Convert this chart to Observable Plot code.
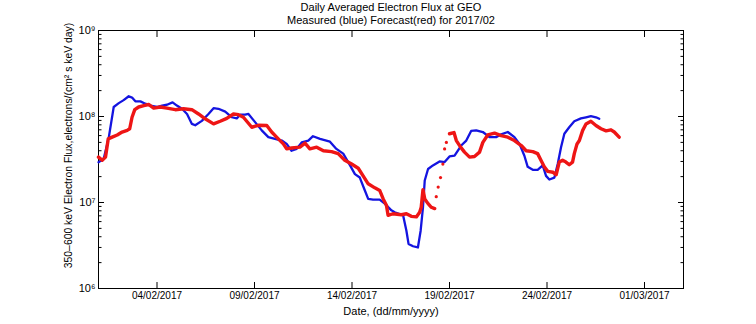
<!DOCTYPE html>
<html>
<head>
<meta charset="utf-8">
<script src="https://cdn.jsdelivr.net/npm/d3@7"></script>
<script src="https://cdn.jsdelivr.net/npm/@observablehq/plot@0.6"></script>
<style>
  html, body { margin: 0; padding: 0; background: #fff; }
</style>
</head>
<body>
<div id="chart"></div>
<script>
// ---- Data (days since 2017-02-01 00:00 UTC, flux in electrons/(cm² s keV day)) ----
const measuredDays = [0.00,0.27,0.53,0.78,1.04,1.29,1.55,1.72,1.89,2.15,2.40,2.66,3.00,3.26,3.51,3.80,4.02,4.28,4.54,4.79,4.96,5.30,5.64,5.90,6.15,6.50,6.84,7.09,7.26,7.52,7.69,8.03,8.37,8.71,9.05,9.40,9.65,9.90,10.16,10.42,10.76,11.00,11.36,11.87,12.20,12.55,12.90,13.15,13.40,13.66,13.83,14.08,14.42,14.68,15.02,15.19,15.62,15.79,15.90,16.13,16.38,16.52,16.64,16.73,16.90,17.15,17.49,17.75,18.00,18.26,18.60,18.86,19.11,19.37,19.71,20.05,20.39,20.65,20.99,21.33,21.59,21.84,22.01,22.27,22.52,22.78,22.95,23.12,23.38,23.55,23.72,23.89,24.14,24.40,24.74,25.00,25.25,25.51,25.68];
const measuredFlux = [2.94e7,3.24e7,5.75e7,1.29e8,1.43e8,1.55e8,1.72e8,1.66e8,1.50e8,1.50e8,1.41e8,1.34e8,1.29e8,1.34e8,1.37e8,1.46e8,1.34e8,1.23e8,1.07e8,8.2e7,7.9e7,8.9e7,1.07e8,1.25e8,1.23e8,1.14e8,9.8e7,9.5e7,1.05e8,1.05e8,1.07e8,8.6e7,6.9e7,5.75e7,5.5e7,5.25e7,4.8e7,4.0e7,4.2e7,5.0e7,5.25e7,5.9e7,5.5e7,5.1e7,4.2e7,3.7e7,2.7e7,2.14e7,1.95e7,1.38e7,1.10e7,1.08e7,1.08e7,9.7e6,8.1e6,7.7e6,7.1e6,4.7e6,3.3e6,3.1e6,3.0e6,4.7e6,8.8e6,1.8e7,2.45e7,2.7e7,3.0e7,2.95e7,3.43e7,3.5e7,4.6e7,5.25e7,6.8e7,6.9e7,6.6e7,5.75e7,5.75e7,6.2e7,6.6e7,5.75e7,4.8e7,3.5e7,2.6e7,2.4e7,2.4e7,2.7e7,2.04e7,1.85e7,1.95e7,2.8e7,4.4e7,6.3e7,7.5e7,8.8e7,9.5e7,9.8e7,1.01e8,9.8e7,9.4e7];

// Forecast, first continuous run
const forecastDaysA = [0.00,0.19,0.36,0.50,0.70,0.96,1.21,1.47,1.60,1.72,1.86,2.06,2.32,2.57,2.83,3.17,3.51,3.94,4.36,4.79,5.13,5.47,5.90,6.24,6.58,6.92,7.18,7.43,7.86,8.20,8.63,8.88,9.22,9.48,9.65,9.90,10.33,10.59,10.84,11.19,11.53,11.95,12.29,12.63,12.98,13.32,13.57,13.83,14.17,14.42,14.60,14.77,14.85,15.10,15.53,15.79,16.04,16.30,16.47,16.55,16.64,16.73,16.90,17.07,17.24];
const forecastFluxA = [3.37e7,3.1e7,3.37e7,5.5e7,5.75e7,6.1e7,6.6e7,6.9e7,7.2e7,9.8e7,1.2e8,1.29e8,1.34e8,1.38e8,1.25e8,1.29e8,1.25e8,1.2e8,1.23e8,1.2e8,1.07e8,9.4e7,8.2e7,8.8e7,9.5e7,1.07e8,1.05e8,9.8e7,7.5e7,7.9e7,7.85e7,6.6e7,5.5e7,4.8e7,4.2e7,4.3e7,4.4e7,4.9e7,4.2e7,4.4e7,4.0e7,3.9e7,3.7e7,3.1e7,2.8e7,2.5e7,2.04e7,1.65e7,1.48e7,1.38e7,1.10e7,9.2e6,7.1e6,7.4e6,7.2e6,7.4e6,6.9e6,6.8e6,7.7e6,8.8e6,1.41e7,1.10e7,9.7e6,8.8e6,8.5e6];
// Forecast, sparse points during the rise
const forecastDaysJump = [17.32,17.42,17.54,17.66,17.75,17.84];
const forecastFluxJump = [1.17e7,1.51e7,1.95e7,2.8e7,4.2e7,5.0e7];
// Forecast, second continuous run
const forecastDaysB = [18.00,18.23,18.35,18.57,18.77,19.03,19.28,19.54,19.71,19.96,20.31,20.65,20.99,21.33,21.68,21.93,22.27,22.52,22.69,22.86,23.04,23.30,23.47,23.55,23.63,23.80,23.97,24.14,24.31,24.40,24.54,24.66,24.83,25.00,25.25,25.51,25.77,26.03,26.28,26.45,26.70];
const forecastFluxB = [6.3e7,6.5e7,5.25e7,4.4e7,3.85e7,3.37e7,3.43e7,3.85e7,5.0e7,6.1e7,6.4e7,6.0e7,5.75e7,5.25e7,4.6e7,4.0e7,3.9e7,3.7e7,3.1e7,2.6e7,2.3e7,2.25e7,2.1e7,2.5e7,2.95e7,3.1e7,2.95e7,2.75e7,2.95e7,3.7e7,4.8e7,5.25e7,6.9e7,8.2e7,8.8e7,7.85e7,7.2e7,6.8e7,7.0e7,6.6e7,5.75e7];

const xTickDates = ["2017-02-04","2017-02-09","2017-02-14","2017-02-19","2017-02-24","2017-03-01"];
const yMajorTicks = [1e6, 1e7, 1e8, 1e9];
const supDigits = {"6":"⁶","7":"⁷","8":"⁸","9":"⁹"};

const titleLines = ["Daily Averaged Electron Flux at GEO", "Measured (blue) Forecast(red) for 2017/02"];
const yLabel = "350\u2013600 keV Electron Flux,electrons/(cm\u00b2 s keV day)";
const xLabel = "Date, (dd/mm/yyyy)";

// ---- Build tables ----
const t0 = Date.UTC(2017, 1, 1);
const toDate = d => new Date(t0 + d * 864e5);
const rows = (days, flux) => days.map((d, i) => ({date: toDate(d), flux: flux[i]}));
const measured = rows(measuredDays, measuredFlux);
const forecastA = rows(forecastDaysA, forecastFluxA);
const forecastB = rows(forecastDaysB, forecastFluxB);
const forecastJump = rows(forecastDaysJump, forecastFluxJump);

const xTicks = xTickDates.map(s => new Date(s + "T00:00:00Z"));
const yMinorTicks = [];
for (const p of [1e6, 1e7, 1e8]) for (let m = 2; m <= 9; m++) yMinorTicks.push(m * p);

const BLUE = "#1414e0";
const RED = "#ee1515";
const fmtDate = d3.utcFormat("%d/%m/%Y");

const chart = Plot.plot({
  width: 756,
  height: 324,
  marginTop: 30,
  marginBottom: 36,
  marginLeft: 98,
  marginRight: 73,
  style: {fontFamily: "'Liberation Sans', Arial, Helvetica, sans-serif", fontSize: "10px", color: "#000", background: "#fff", overflow: "visible"},
  x: {type: "utc", domain: [new Date(Date.UTC(2017,1,1)), new Date(Date.UTC(2017,2,3))]},
  y: {type: "log", domain: [1e6, 1e9]},
  marks: [
    // tick labels
    Plot.axisX({anchor: "bottom", ticks: xTicks, tickSize: 0, tickPadding: 3, tickFormat: fmtDate, label: null, fontSize: 10}),
    Plot.axisY({anchor: "left", ticks: yMajorTicks, tickSize: 0, tickPadding: 3, label: null, fontSize: 11,
      tickFormat: d => "10" + supDigits[String(Math.round(Math.log10(d)))]}),
    // inward ticks
    Plot.axisX({anchor: "bottom", ticks: xTicks, tickSize: 6, dy: -6, tickFormat: () => "", label: null}),
    Plot.axisX({anchor: "top", ticks: xTicks, tickSize: 6, dy: 6, tickFormat: () => "", label: null}),
    Plot.axisY({anchor: "left", ticks: yMajorTicks, tickSize: 6, dx: 6, tickFormat: () => "", label: null}),
    Plot.axisY({anchor: "left", ticks: yMinorTicks, tickSize: 3.5, dx: 3.5, tickFormat: () => "", label: null}),
    Plot.axisY({anchor: "right", ticks: yMajorTicks, tickSize: 6, dx: -6, tickFormat: () => "", label: null}),
    Plot.axisY({anchor: "right", ticks: yMinorTicks, tickSize: 3.5, dx: -3.5, tickFormat: () => "", label: null}),
    Plot.frame({stroke: "#000", strokeWidth: 1}),
    // data
    Plot.line(measured, {x: "date", y: "flux", stroke: BLUE, strokeWidth: 2.3}),
    Plot.line(forecastA, {x: "date", y: "flux", stroke: RED, strokeWidth: 3.4}),
    Plot.line(forecastB, {x: "date", y: "flux", stroke: RED, strokeWidth: 3.4}),
    Plot.dot(forecastJump, {x: "date", y: "flux", fill: RED, r: 1.6}),
    // titles & labels
    Plot.text([titleLines[0]], {frameAnchor: "top", dy: -23, lineAnchor: "middle", fontSize: 11}),
    Plot.text([titleLines[1]], {frameAnchor: "top", dy: -10, lineAnchor: "middle", fontSize: 11}),
    Plot.text([xLabel], {frameAnchor: "bottom", dy: 23, lineAnchor: "middle", fontSize: 11}),
    Plot.text([yLabel], {frameAnchor: "left", dx: -30, dy: -14, rotate: -90, lineAnchor: "middle", textAnchor: "middle", fontSize: 10.4})
  ]
});
document.getElementById("chart").appendChild(chart);
</script>
</body>
</html>
